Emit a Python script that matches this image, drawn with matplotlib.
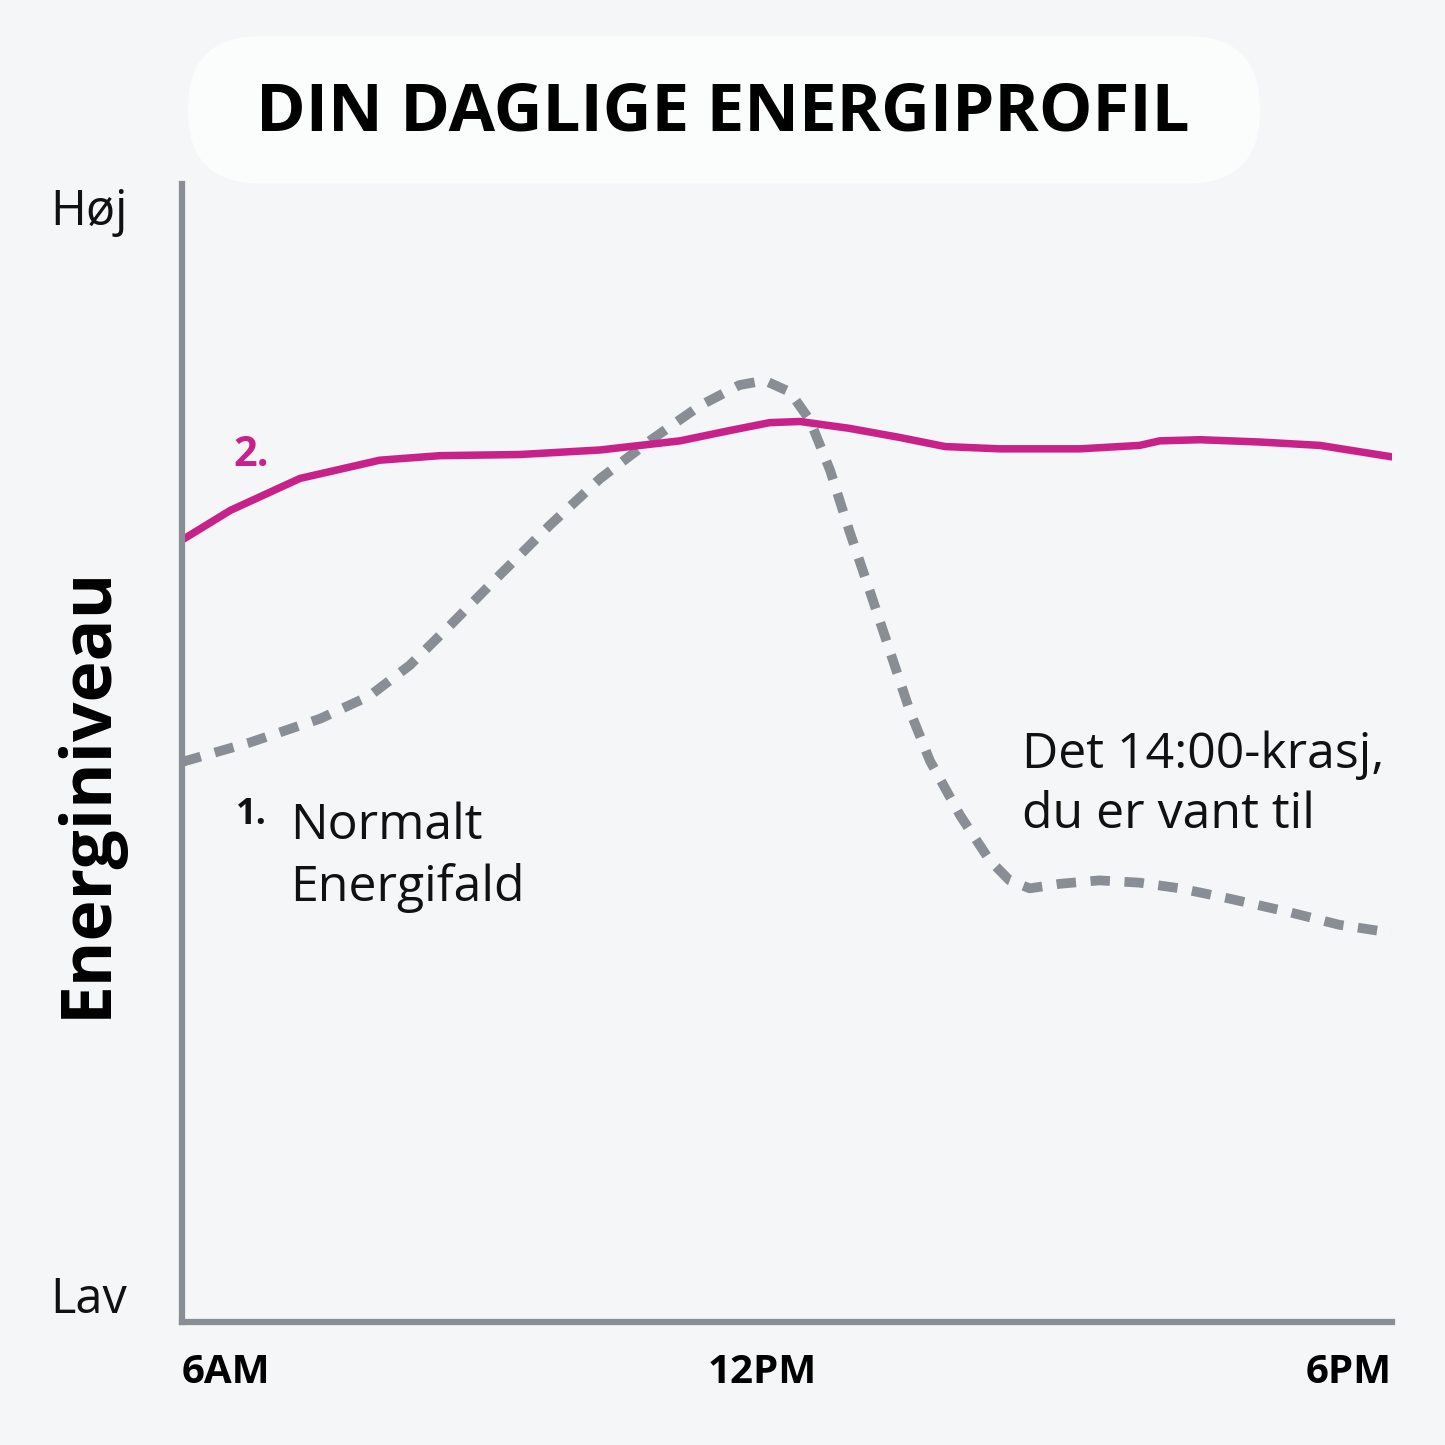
import matplotlib
matplotlib.use("Agg")
import matplotlib.pyplot as plt
from matplotlib.patches import FancyBboxPatch
import matplotlib.transforms as mtransforms

# data (hours, energy level 0-10)
hours_fokus = [6.00, 6.48, 7.17, 7.96, 8.56, 9.35, 10.15, 10.94, 11.43, 11.83, 12.13, 12.62,
               13.12, 13.57, 14.11, 14.91, 15.50, 15.70, 16.10, 16.69, 17.29, 18.00]
energi_fokus = [6.87, 7.13, 7.41, 7.57, 7.61, 7.62, 7.66, 7.74, 7.83, 7.90, 7.91, 7.85,
                7.77, 7.69, 7.67, 7.67, 7.70, 7.74, 7.75, 7.73, 7.70, 7.60]

hours_normal = [6.00, 6.67, 7.37, 7.86, 8.26, 8.66, 9.15, 9.65, 10.15, 10.64, 11.14, 11.53,
                11.78, 12.03, 12.23, 12.43, 12.62, 12.82, 13.02, 13.22, 13.42, 13.72, 14.01,
                14.21, 14.41, 14.71, 15.10, 15.50, 15.90, 16.39, 16.99, 17.48, 18.00]
energi_normal = [4.92, 5.09, 5.30, 5.50, 5.77, 6.12, 6.56, 7.00, 7.41, 7.74, 8.05, 8.23,
                 8.27, 8.17, 7.92, 7.48, 6.95, 6.43, 5.90, 5.37, 4.93, 4.45, 4.06,
                 3.88, 3.81, 3.85, 3.88, 3.86, 3.81, 3.72, 3.60, 3.49, 3.42]

tick_pos = [6, 12, 18]
tick_labels = ["6AM", "12PM", "6PM"]

bg = "#f5f6f7"
magenta = "#c8228a"
grey = "#888e93"
font = ["Open Sans", "DejaVu Sans"]

fig = plt.figure(figsize=(14.45, 14.45), dpi=100, facecolor=bg)
ax = fig.add_axes([0.126, 0.085, 0.837, 0.788])
ax.set_facecolor(bg)

ax.plot(hours_normal, energi_normal, color=grey, lw=7, dashes=(2.0, 1.5),
        solid_capstyle="butt", dash_capstyle="butt", dash_joinstyle="round")
ax.plot(hours_fokus, energi_fokus, color=magenta, lw=5.4, solid_capstyle="round",
        solid_joinstyle="round")

ax.set_xlim(6, 18)
ax.set_ylim(0, 10)
for s in ["top", "right"]:
    ax.spines[s].set_visible(False)
for s in ["left", "bottom"]:
    ax.spines[s].set_color(grey)
    ax.spines[s].set_linewidth(4.5)
ax.set_yticks([])
ax.set_xticks(tick_pos)
ax.set_xticklabels(tick_labels, fontsize=29, fontweight="bold", family=font)
ax.tick_params(axis="x", length=0, pad=22)
labs = ax.get_xticklabels()
labs[0].set_ha("left")
labs[2].set_ha("right")
labs[1].set_transform(labs[1].get_transform() +
                      mtransforms.ScaledTranslation(-0.25, 0, fig.dpi_scale_trans))

# annotations
ax.text(6.51, 7.61, "2.", color=magenta, fontsize=30, fontweight="bold", family=font,
        ha="left", va="center")
ax.text(6.53, 4.45, "1.", color="#111111", fontsize=26, fontweight="bold", family=font,
        ha="left", va="center")
ax.text(7.07, 4.57, "Normalt\nEnergifald", fontsize=36, family=font, ha="left", va="top",
        linespacing=1.3, color="#111111")
ax.text(14.33, 5.20, "Det 14:00-krasj,\ndu er vant til", fontsize=36, family=font,
        ha="left", va="top", linespacing=1.3, color="#111111")

# y axis words
fig.text(0.0346, 0.853, "Høj", fontsize=35, family=font, ha="left", va="center", color="#111111")
fig.text(0.0346, 0.100, "Lav", fontsize=35, family=font, ha="left", va="center", color="#111111")
fig.text(0.061, 0.452, "Energiniveau", fontsize=50, fontweight="bold", family=font,
         rotation=90, ha="center", va="center", color="#000000")

# title box
box = FancyBboxPatch((0.130, 0.873), 0.742, 0.102, boxstyle="round,pad=0.0,rounding_size=0.05",
                     transform=fig.transFigure, facecolor="#fbfcfc", edgecolor="none")
fig.patches.append(box)
fig.text(0.5, 0.922, "DIN DAGLIGE ENERGIPROFIL", fontsize=48.5, fontweight="bold", family=font,
         ha="center", va="center", color="#000000")

fig.savefig("out.png", dpi=100, facecolor=bg)
